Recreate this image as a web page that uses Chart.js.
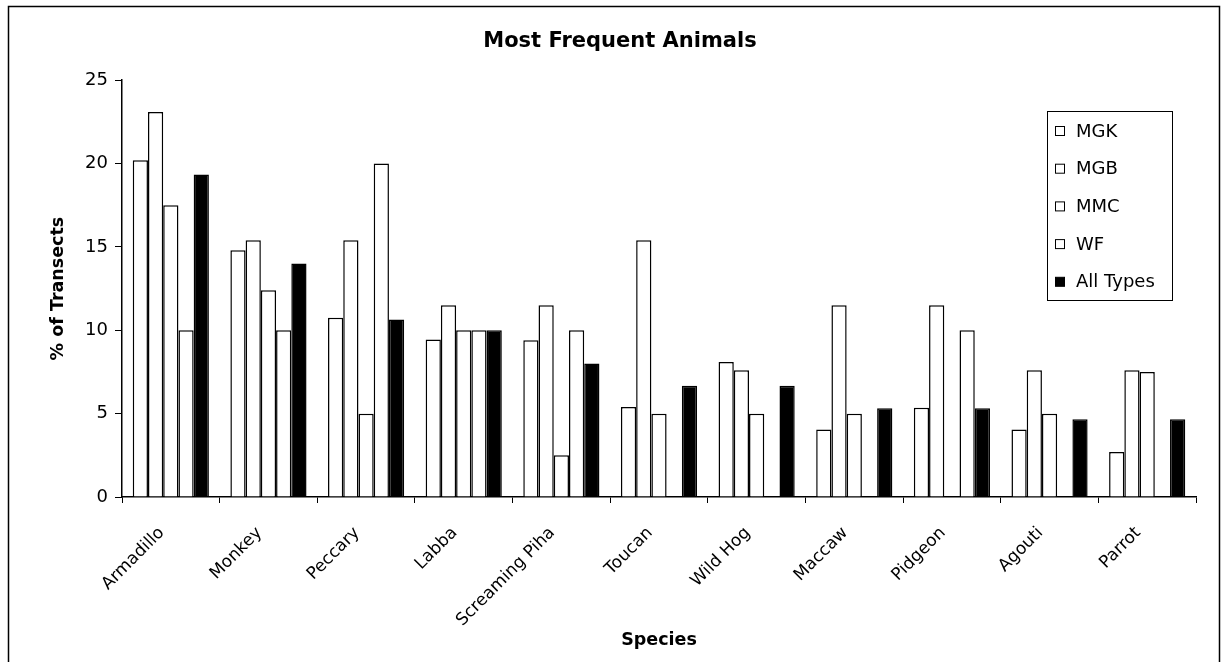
<!DOCTYPE html>
<html>
<head>
<meta charset="utf-8">
<script src="https://cdn.jsdelivr.net/npm/chart.js@4/dist/chart.umd.min.js"></script>
<style>
  html, body { margin: 0; padding: 0; background: #fff; }
</style>
</head>
<body>
<canvas id="animalsChart" width="1227" height="662"></canvas>
<script>
const species = ['Armadillo', 'Monkey', 'Peccary', 'Labba', 'Screaming Piha', 'Toucan', 'Wild Hog', 'Maccaw', 'Pidgeon', 'Agouti', 'Parrot'];
const mgk = [20.2, 14.8, 10.75, 9.45, 9.4, 5.4, 8.1, 4.05, 5.35, 4.05, 2.7];
const mgb = [23.1, 15.4, 15.4, 11.5, 11.5, 15.4, 7.6, 11.5, 11.5, 7.6, 7.6];
const mmc = [17.5, 12.4, 5.0, 10.0, 2.5, 5.0, 5.0, 5.0, null, 5.0, 7.5];
const wf = [10.0, 10.0, 20.0, 10.0, 10.0, null, null, null, 10.0, null, null];
const allTypes = [19.35, 14.0, 10.65, 10.0, 8.0, 6.67, 6.67, 5.33, 5.33, 4.67, 4.67];
const yTicks = [0, 5, 10, 15, 20, 25];

const FONT = '"DejaVu Sans", "Liberation Sans", Arial, sans-serif';

function series(label, data, fill) {
    return {
        label: label,
        data: data,
        backgroundColor: fill,
        borderColor: '#000',
        borderWidth: 1.5,
        categoryPercentage: 0.78,
        barPercentage: 1.0
    };
}

// frame round the picture, and the boxed legend at the upper right
const decorations = {
    id: 'decorations',
    beforeDraw(chart) {
        const c = chart.ctx;
        c.save();
        c.fillStyle = '#fff';
        c.fillRect(0, 0, chart.width, chart.height);
        c.strokeStyle = '#000';
        c.lineWidth = 1.5;
        c.beginPath();
        c.moveTo(8.5, chart.height);
        c.lineTo(8.5, 6.5);
        c.lineTo(1219.5, 6.5);
        c.lineTo(1219.5, chart.height);
        c.stroke();
        c.restore();
    },
    afterDraw(chart) {
        const c = chart.ctx;
        c.save();
        c.strokeStyle = '#000';
        c.lineWidth = 1;
        c.strokeRect(1047.5, 111.5, 125, 189);
        c.font = '18px ' + FONT;
        c.textBaseline = 'middle';
        chart.data.datasets.forEach((ds, i) => {
            const y = 131 + i * 37.7;
            c.fillStyle = ds.backgroundColor;
            c.fillRect(1055.5, y - 4.5, 9, 9);
            c.strokeRect(1055.5, y - 4.5, 9, 9);
            c.fillStyle = '#000';
            c.fillText(ds.label, 1076, y + 1);
        });
        c.restore();
    }
};

const ctx = document.getElementById('animalsChart').getContext('2d');
new Chart(ctx, {
    type: 'bar',
    data: {
        labels: species,
        datasets: [
            series('MGK', mgk, '#fff'),
            series('MGB', mgb, '#fff'),
            series('MMC', mmc, '#fff'),
            series('WF', wf, '#fff'),
            series('All Types', allTypes, '#000')
        ]
    },
    plugins: [decorations],
    options: {
        responsive: false,
        animation: false,
        layout: { padding: { left: 44, right: 31, top: 0, bottom: 0 } },
        plugins: {
            legend: { display: false },
            tooltip: { enabled: false },
            title: {
                display: true,
                text: 'Most Frequent Animals',
                color: '#000',
                font: { family: FONT, size: 21, weight: 'bold' },
                padding: { top: 29, bottom: 26 }
            }
        },
        scales: {
            x: {
                grid: { display: true, drawOnChartArea: false, drawTicks: true, tickLength: 6, color: '#000', offset: true },
                border: { display: true, color: '#000', width: 1.5 },
                ticks: {
                    color: '#000',
                    font: { family: FONT, size: 17 },
                    minRotation: 45,
                    maxRotation: 45,
                    autoSkip: false,
                    padding: 20,
                    labelOffset: -9
                },
                title: {
                    display: true,
                    text: 'Species',
                    color: '#000',
                    font: { family: FONT, size: 17.5, weight: 'bold' },
                    padding: { top: 0, bottom: 11.5 }
                },
                afterFit(scale) { scale.height = 165; }
            },
            y: {
                min: 0,
                max: 25,
                afterBuildTicks(scale) { scale.ticks = yTicks.map(v => ({ value: v })); },
                grid: { display: true, drawOnChartArea: false, drawTicks: true, tickLength: 7, color: '#000' },
                border: { display: true, color: '#000', width: 1.5 },
                ticks: {
                    color: '#000',
                    font: { family: FONT, size: 18 },
                    padding: 7
                },
                title: {
                    display: true,
                    text: '% of Transects',
                    color: '#000',
                    font: { family: FONT, size: 17.5, weight: 'bold' },
                    padding: { top: 3.5, bottom: 0 }
                },
                afterFit(scale) { scale.width = 78; }
            }
        }
    }
});
</script>
</body>
</html>
